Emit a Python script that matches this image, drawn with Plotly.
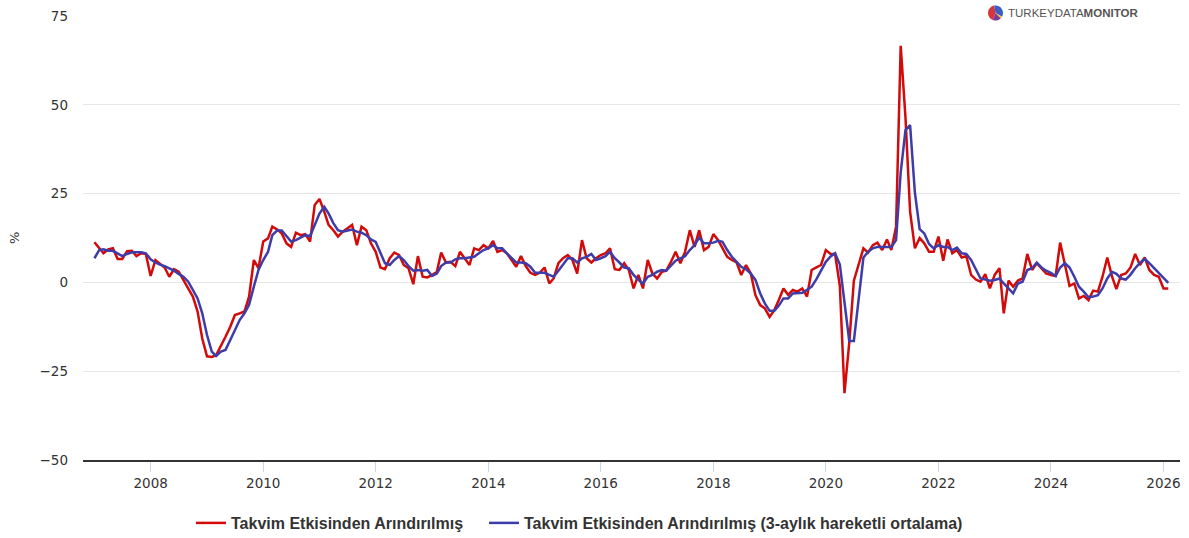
import math
import pandas as pd
import plotly.graph_objects as go

# ---------------- data ----------------
months = pd.date_range("2007-01-01", "2026-02-01", freq="MS")

red_values = [
    11.3, 9.6, 8.2, 9.3, 9.6, 6.6, 6.6, 8.8, 8.9, 7.4,
    8.2, 8.0, 1.8, 6.3, 5.4, 4.2, 1.6, 3.7, 3.0, 0.7,
    -1.7, -4.0, -8.2, -15.8, -20.8, -21.0, -20.5, -18.0, -15.3, -12.5,
    -9.2, -8.7, -8.2, -4.0, 6.3, 4.0, 11.5, 12.4, 15.7, 14.9,
    13.8, 11.0, 10.0, 14.0, 13.3, 13.6, 11.5, 21.8, 23.5, 19.9,
    16.2, 14.7, 12.9, 14.3, 15.2, 16.2, 10.5, 15.7, 14.7, 11.0,
    8.6, 4.2, 3.7, 6.8, 8.4, 7.7, 4.9, 4.0, -0.5, 7.4,
    1.6, 1.4, 2.1, 3.0, 8.4, 5.6, 5.8, 4.6, 8.6, 6.8,
    4.9, 9.6, 9.1, 10.5, 9.6, 11.7, 8.6, 9.1, 8.2, 6.3,
    4.4, 7.4, 4.6, 2.7, 2.1, 2.7, 4.2, -0.3, 1.1, 5.4,
    6.8, 7.7, 6.3, 2.5, 11.9, 6.8, 5.6, 6.8, 7.7, 8.2,
    9.6, 3.7, 3.5, 5.4, 3.5, -1.7, 2.1, -1.7, 6.3, 2.5,
    1.1, 3.0, 3.3, 5.8, 8.6, 5.4, 8.6, 14.7, 10.0, 14.7,
    9.1, 10.0, 13.6, 11.9, 9.6, 7.2, 6.3, 5.6, 2.1, 4.9,
    2.5, -3.6, -6.4, -7.3, -9.7, -7.8, -5.0, -1.7, -3.5, -2.1,
    -2.6, -1.7, -4.0, 3.5, 4.2, 4.9, 9.1, 8.0, 8.0, -1.0,
    -31.2, -17.0, 0.5, 4.9, 9.6, 8.4, 10.5, 11.2, 9.1, 12.1,
    9.1, 15.7, 66.6, 46.4, 19.9, 9.6, 12.5, 11.0, 8.6, 8.6,
    12.9, 6.1, 12.1, 8.2, 9.1, 7.0, 7.4, 2.1, 0.8, 0.2,
    2.3, -1.7, 2.1, 4.0, -8.7, 0.5, -1.2, 0.5, 1.1, 8.0,
    3.5, 5.4, 4.0, 2.5, 2.1, 1.8, 11.2, 5.0, -1.0, -0.3,
    -4.5, -3.8, -5.0, -2.3, -2.6, 1.6, 7.0, 1.6, -1.9, 2.1,
    2.5, 4.2, 8.0, 4.9, 7.0, 3.5, 2.1, 1.6, -1.7, -1.7,
]

blue_values = [
    6.8, 9.1, 9.3, 8.9, 8.9, 8.2, 7.4, 8.0, 8.5, 8.5,
    8.5, 8.2, 6.5, 5.6, 5.0, 4.6, 4.0, 3.3, 2.4, 1.6,
    0.2, -2.1, -4.5, -8.7, -14.8, -19.5, -20.7, -19.5, -19.0, -16.2,
    -13.4, -10.6, -8.7, -6.3, -1.2, 3.5, 6.3, 8.6, 13.3, 14.6,
    14.6, 12.9, 11.5, 11.9, 12.6, 13.3, 13.0, 16.2, 19.4, 21.3,
    19.4, 16.7, 14.7, 14.3, 14.5, 14.9, 14.3, 14.0, 13.3, 12.1,
    11.4, 8.2, 5.4, 4.9, 6.3, 7.4, 6.3, 4.6, 3.3, 3.5,
    3.3, 3.5, 1.8, 2.5, 4.6, 5.6, 5.6, 6.5, 6.8, 6.8,
    7.0, 7.2, 8.2, 9.1, 9.6, 10.5, 9.6, 9.6, 8.2, 7.0,
    5.6, 5.6, 5.4, 4.4, 2.7, 2.7, 2.7, 2.1, 1.6, 3.3,
    4.9, 6.8, 6.8, 5.6, 6.8, 7.2, 8.0, 6.3, 6.8, 7.4,
    8.6, 6.8, 5.6, 4.2, 4.0, 2.1, 0.7, -0.3, 1.6, 2.1,
    3.0, 3.5, 3.3, 4.6, 6.1, 6.8, 7.4, 9.1, 10.5, 12.6,
    11.0, 11.0, 11.2, 11.7, 11.4, 9.1, 7.2, 5.8, 4.4, 3.7,
    2.5, 0.7, -3.1, -5.9, -8.0, -8.0, -6.6, -4.5, -4.5, -3.1,
    -2.9, -2.9, -2.1, -1.2, 0.9, 3.5, 5.8, 7.3, 8.2, 5.0,
    -5.0, -16.5, -16.5, -4.0, 7.0, 8.6, 9.6, 10.0, 10.0, 10.2,
    10.0, 11.9, 31.0, 42.9, 44.3, 25.3, 15.0, 13.8, 10.8, 9.6,
    10.5, 10.0, 10.0, 9.1, 9.8, 8.2, 8.0, 6.3, 3.5, 1.1,
    0.8, 0.5, 0.7, 1.1, -0.3, -1.7, -3.1, -0.3, 0.2, 3.5,
    4.0, 5.6, 4.2, 3.3, 2.7, 1.8, 4.2, 5.4, 4.2, 1.6,
    -1.2, -2.6, -4.2, -4.0, -3.6, -1.7, 1.1, 3.0, 2.4, 1.1,
    0.8, 2.2, 4.0, 5.5, 6.6, 5.4, 4.0, 2.7, 1.4, -0.1,
]

red_name = "Takvim Etkisinden Arındırılmış"
blue_name = "Takvim Etkisinden Arındırılmış (3-aylık hareketli ortalama)"
y_ticks = [-50, -25, 0, 25, 50, 75]

# ---------------- layout geometry ----------------
W, H = 1189, 538
ML, MR, MT, MB = 83, 9, 16, 78
PW, PH = W - ML - MR, H - MT - MB


def px2paper(x, y):
    return (x - ML) / PW, (H - MB - y) / PH


fig = go.Figure()
fig.add_trace(go.Scatter(
    x=months, y=red_values, mode="lines", name=red_name,
    line=dict(color="#d20a0a", width=2.5), legend="legend",
))
fig.add_trace(go.Scatter(
    x=months, y=blue_values, mode="lines", name=blue_name,
    line=dict(color="#3c3caa", width=2.5), legend="legend2",
))

# logo background + pie icon
shapes = []
bx0, by0 = px2paper(966, 22)
bx1, by1 = px2paper(1156, 6)
shapes.append(dict(type="rect", xref="paper", yref="paper", x0=bx0, y0=by0,
                   x1=bx1, y1=by1, fillcolor="white", line=dict(width=0),
                   layer="above"))
cx, cy, r = 995.5, 13.0, 7.5
wedges = [(100, 250, "#d8343c"), (-30, 100, "#3a5fc4"),
          (250, 315, "#7a3a9a"), (315, 330, "#f2c21a")]
for a0, a1, col in wedges:
    pts = [px2paper(cx, cy)]
    steps = 12
    for i in range(steps + 1):
        a = math.radians(a0 + (a1 - a0) * i / steps)
        pts.append(px2paper(cx + r * math.cos(a), cy - r * math.sin(a)))
    path = "M " + " L ".join(f"{p[0]:.5f},{p[1]:.5f}" for p in pts) + " Z"
    shapes.append(dict(type="path", xref="paper", yref="paper", path=path,
                       fillcolor=col, line=dict(width=0), layer="above"))

lx, ly = px2paper(1006, 13)
pctx, pcty = px2paper(14, 238)
leg1x, legy = px2paper(191, 523)
leg2x, _ = px2paper(484, 523)
legend_font = dict(family="Liberation Sans, Arial", size=16,
                   color="#333333", weight="bold")

fig.update_layout(
    width=W, height=H,
    margin=dict(l=ML, r=MR, t=MT, b=MB, autoexpand=False),
    plot_bgcolor="white", paper_bgcolor="white",
    showlegend=True,
    legend=dict(orientation="h", x=leg1x, xanchor="left", y=legy,
                yanchor="middle", itemwidth=30, font=legend_font,
                bgcolor="rgba(0,0,0,0)"),
    legend2=dict(orientation="h", x=leg2x, xanchor="left", y=legy,
                 yanchor="middle", itemwidth=30, font=legend_font,
                 bgcolor="rgba(0,0,0,0)"),
    xaxis=dict(
        type="date",
        range=["2006-10-19", "2026-04-18"],
        tick0="2008-01-01", dtick="M24", tickformat="%Y",
        showgrid=False, zeroline=False,
        showline=True, linecolor="#333333", linewidth=1.5,
        ticks="outside", ticklen=10, tickcolor="#ccd6eb", tickwidth=1,
        tickfont=dict(family="DejaVu Sans", size=13.5, color="#333333"),
    ),
    yaxis=dict(
        range=[-50, 75], tickvals=y_ticks,
        showgrid=True, gridcolor="#e6e6e6", gridwidth=1,
        zeroline=False, showline=False,
        ticklabelstandoff=14,
        tickfont=dict(family="DejaVu Sans", size=13.5, color="#333333"),
    ),
    shapes=shapes,
    annotations=[
        dict(text="TURKEYDATA<b>MONITOR</b>", xref="paper", yref="paper",
             x=lx, y=ly, xanchor="left", yanchor="middle", showarrow=False,
             font=dict(family="Liberation Sans", size=11.5, color="#555555")),
        dict(text="%", xref="paper", yref="paper", x=pctx, y=pcty,
             xanchor="center", yanchor="middle", showarrow=False,
             textangle=-90,
             font=dict(family="DejaVu Sans", size=13, color="#333333")),
    ],
)

fig.write_html(
    "out.html",
    config={"displayModeBar": False},
    post_script="document.body.style.margin='0';"
                "document.body.style.overflow='hidden';",
)
